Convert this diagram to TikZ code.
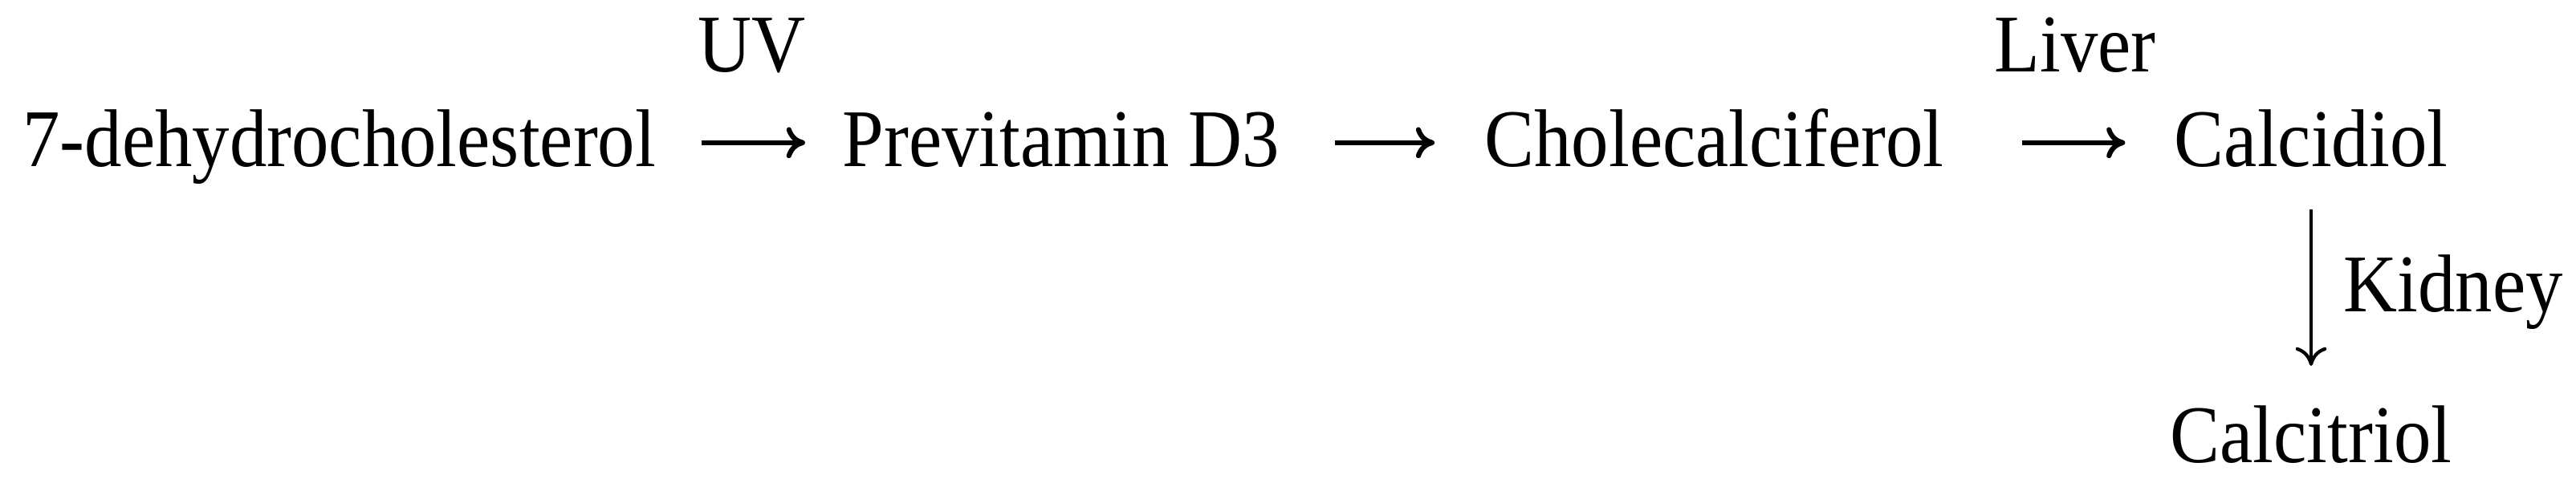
\documentclass[tikz,border=0pt]{standalone}
\usepackage{fontspec}
\setmainfont{Liberation Serif}
\usepackage{tikz}
\usetikzlibrary{arrows.meta}
\tikzset{chem/.style={inner sep=0pt, font=\fontsize{12}{14}\selectfont, yscale=1.1,
      text height=0.9em, text depth=0.214em}}
\tikzset{lbl/.style={inner sep=0pt, font=\fontsize{12}{14}\selectfont, yscale=1.1, anchor=base}}
\tikzset{arr/.style={-{To[length=3pt,width=5pt]}, line width=0.8pt}}

\begin{document}
\begin{tikzpicture}[x=0.4545cm,y=0.4545cm]
    \useasboundingbox (0,0) rectangle (32.09,6.01);
    \node[chem, anchor=base west] (dehydro) at (0.27,3.94) {7-dehydrocholesterol};
    \node[chem, anchor=base west] (previt) at (10.48,3.94) {Previtamin D3};
    \node[chem, anchor=base west] (chole) at (18.48,3.94) {Cholecalciferol};
    \node[chem, anchor=base] (calcidiol) at (28.79,3.94) {Calcidiol};
    \node[chem, anchor=base] (calcitriol) at (28.79,0.25) {Calcitriol};
    \node[lbl] (uv) at (9.37,5.11) {UV};
    \node[lbl] (liver) at (25.85,5.11) {Liver};
    \node[lbl, anchor=base west] (kidney) at (29.18,2.13) {Kidney};
    \draw[arr, shorten <=0.25cm, shorten >=0.205cm] (dehydro) to (previt);
    \draw[arr, shorten <=0.309cm, shorten >=0.277cm] (previt) to (chole);
    \draw[arr, shorten <=0.436cm, shorten >=0.273cm] (chole) to (calcidiol);
    \draw[arr, line width=0.55pt, shorten <=0.155cm, shorten >=0.19cm] (calcidiol) to (calcitriol);
  \end{tikzpicture}
\end{document}
